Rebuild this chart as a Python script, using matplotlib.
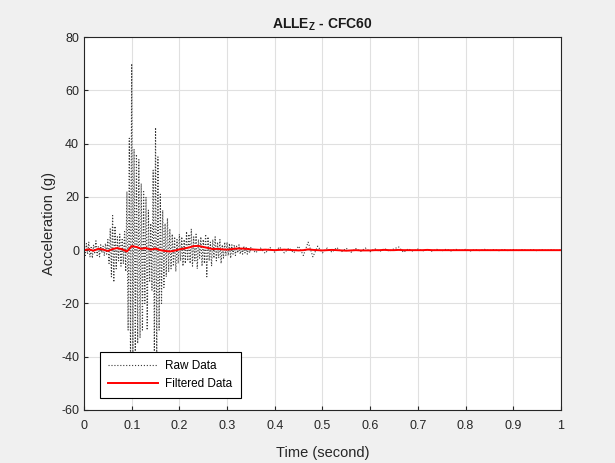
import numpy as np
import matplotlib.pyplot as plt

plt.rcParams['font.family'] = ['Liberation Sans', 'DejaVu Sans']
plt.rcParams['axes.unicode_minus'] = False

# raw signal, dense part (0 - 0.3475 s, step 0.0025 s)
raw_t1 = np.arange(140) * 0.0025
raw_a1 = [1.5, -2, 2.5, -1.5, 3, -2.5, 1, -3, 2, -1, 3.5, -2, 1.5, -2.5, 2, -1, 1.5, -2, 2.5, -1.5,
          4, -5, 8, -10, 13, -12, 9, -7,
          5, -4, 6, -6, 4, -5, 7, -8,
          22, -30, 42, -40, 70, -40, 38, -38,
          36, -35, 34, -33, 25, -30, 22, -20,
          20, -30, 15, -12,
          10, -15, 30, -38, 46, -40, 35, -30,
          21, -20, 15, -14, 10, -10, 12, -8,
          8, -7, 6, -6, 5, -8, 4, -5,
          6, -4, 5, -6, 4, -5, 7, -4, 6, -5, 8, -6, 5, -4, 6, -7, 4, -3, 5, -6,
          4, -5, 6, -10, 5, -4, 3, -6, 4, -3, 5, -4, 3, -3, 4, -5, 2, -3, 3, -2,
          3, -2, 2.5, -3, 2, -1.5, 2, -2, 1.5, -1, 2, -1.5, 1, -1.5, 1.5, -1, 1, -1.5, 1, -1]

# raw signal, tail (0.35 - 1.0 s, step 0.01 s)
raw_t2 = 0.35 + np.arange(66) * 0.01
raw_a2 = [1, -1, 0.8, -1.2, 1, -0.8, 1.2, -1, 0.8, -1,
          1.5, -2, 3, -2.5, 1.5, -1,
          0.8, -0.8, 1, -0.6, 0.7, -0.8, 0.6, -0.5, 0.8,
          -0.6, 0.5, -0.5, 0.6, -0.4, 0.5, 1.2, -0.8, 0.5, -0.4,
          0.4, -0.3, 0.3, -0.4, 0.3, -0.3, 0.4, -0.3, 0.3, -0.2, 0.3, -0.3, 0.2, -0.2, 0.3, -0.2,
          0.2, -0.2, 0.3, -0.2, 0.2, -0.2, 0.2, -0.1, 0.2, -0.2, 0.1, -0.1, 0.1, -0.1, 0.0]

# filtered signal (step 0.01 s)
filt_t = np.arange(101) * 0.01
filt_a = [0, 0.3, -0.2, 0.5, 0.2, -0.3, 0.4, 0.8, 0.3, -0.5,
          1.5, 1.2, 0.5, 0.8, 0.2, 0.6, 0.0, -0.3, -0.5, -0.2,
          0.3, 0.6, 1.0, 1.5, 1.6, 1.2, 0.8, 0.4, 0.5, 0.3,
          0.2, 0.4, 0.6, 0.6, 0.5, 0.3, 0.2, 0.1, 0.2, 0.1,
          0.0, 0.1, 0.2, 0.1, 0.0, -0.1, 0.0, 0.3, 0.1, 0.0,
          -0.1, 0.0, 0.1, 0.0, -0.1, -0.2, -0.1, 0.0, -0.1, -0.1,
          -0.1, 0.0, 0.0, 0.1, 0.0, 0.0, 0.1, 0.0, 0.0, 0.0,
          0.0, 0.0, 0.1, 0.0, 0.0, 0.0, 0.0, 0.0, 0.0, 0.0,
          0.0, 0.0, 0.0, 0.0, 0.0, 0.0, 0.0, 0.0, 0.0, 0.0,
          0.0, 0.0, 0.0, 0.0, 0.0, 0.0, 0.0, 0.0, 0.0, 0.0, 0.0]

xticks = np.arange(0, 1.01, 0.1)
xlabels = ['0', '0.1', '0.2', '0.3', '0.4', '0.5', '0.6', '0.7', '0.8', '0.9', '1']
yticks = np.arange(-60, 81, 20)

raw_t = np.concatenate([raw_t1, raw_t2])
raw_a = np.concatenate([raw_a1, raw_a2])

fig = plt.figure(figsize=(6.15, 4.63), dpi=100, facecolor='#f0f0f0')
ax = fig.add_axes([0.1366, 0.1145, 0.7754, 0.8055])

ax.plot(raw_t, raw_a, color='#3a3a3a', linestyle=':', linewidth=0.8, label='Raw Data')
ax.plot(filt_t, filt_a, color='red', linewidth=1.4, label='Filtered Data')

ax.set_xlim(0, 1)
ax.set_ylim(-60, 80)
ax.set_xticks(xticks)
ax.set_xticklabels(xlabels)
ax.set_yticks(yticks)
ax.grid(True, color='#e0e0e0', linewidth=0.8)
ax.set_axisbelow(True)
ax.tick_params(direction='in', length=3, labelsize=9, colors='#262626')
ax.tick_params(axis='x', pad=7)
for s in ax.spines.values():
    s.set_color('#262626')
    s.set_linewidth(0.8)

ax.set_title('ALLE$_\\mathregular{Z}$ - CFC60', fontsize=10, fontweight='bold', color='#1a1a1a')
ax.set_xlabel('Time (second)', fontsize=10.5, color='#262626', labelpad=10)
ax.set_ylabel('Acceleration (g)', fontsize=10.5, color='#262626')

leg = ax.legend(loc='lower left', bbox_to_anchor=(0.034, 0.032), fontsize=8.5,
                fancybox=False, edgecolor='black', framealpha=1, borderaxespad=0,
                handlelength=4.2, handletextpad=0.6, borderpad=0.7, labelspacing=0.5)
leg.get_frame().set_linewidth(0.8)

fig.savefig('out.png', dpi=100, facecolor=fig.get_facecolor())
